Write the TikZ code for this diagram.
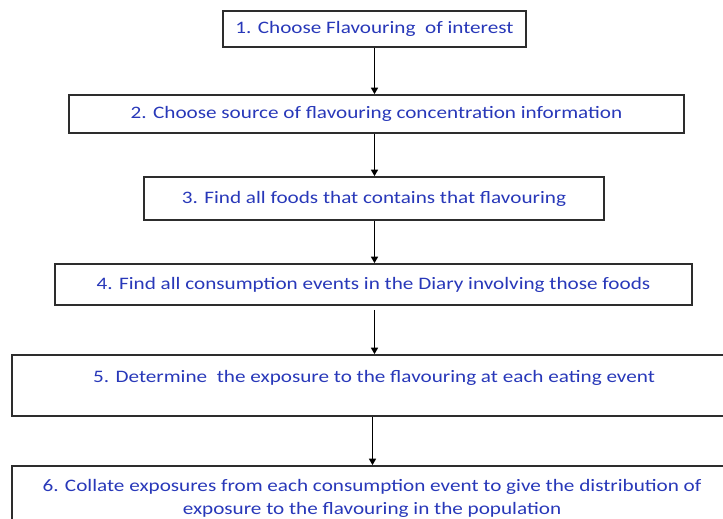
\documentclass[tikz,border=0pt]{standalone}
\usepackage{fontspec}
\setmainfont{Carlito}[FakeStretch=1.21]
\usetikzlibrary{arrows.meta}
\definecolor{stepblue}{RGB}{40,56,185}
\definecolor{frame}{RGB}{45,45,45}
\begin{document}
\begin{tikzpicture}[x=1pt,y=-1pt,
  stepbox/.style={draw=frame, line width=1.7pt, fill=white, inner sep=0pt,
    text=stepblue, font=\fontsize{17.5}{23}\selectfont, align=center},
  steptext/.style={text=stepblue, font=\fontsize{17.5}{23}\selectfont, align=center, inner sep=0pt},
  flow/.style={draw=black, line width=1.5pt, -{Triangle[length=6.5pt,width=7pt]}}]
\useasboundingbox (0,0) rectangle (723,519);
\clip (0,0) rectangle (723,519);

% Step boxes
\node[stepbox, minimum width=303pt, minimum height=36pt] (b1) at (374.5,29)
  {1. Choose Flavouring\ \ of interest};
\node[stepbox, minimum width=615pt, minimum height=38pt] (b2) at (376.5,114)
  {2. Choose source of flavouring concentration information};
\node[stepbox, minimum width=460pt, minimum height=43pt] (b3) at (374,198.5)
  {3. Find all foods that contains that\ flavouring};
\node[stepbox, minimum width=637pt, minimum height=41pt] (b4) at (373.5,284.5)
  {4. Find all consumption events\ in the Diary involving those foods};
\node[stepbox, minimum width=724pt, minimum height=61pt] (b5) at (374,385.5) {};
\node[stepbox, minimum width=724pt, minimum height=72pt] (b6) at (374,502) {};

% Texts of the two wide steps, set near the top of their boxes
\node[steptext, anchor=center] (t5) at (374,378)
  {5. Determine\ \ the exposure to the flavouring\ at each eating\ event};
\node[steptext, anchor=center] (t6) at (372,498)
  {6. Collate\ exposures from each consumption event to give\ the distribution of\\
   exposure to the flavouring in the population};

% Connectors
\draw[flow] (b1.south) -- (b1.south |- b2.north);
\draw[flow] (b1.south |- b2.south) -- (b1.south |- b3.north);
\draw[flow] (b1.south |- b3.south) -- (b1.south |- b4.north);
\draw[flow, shorten <=4pt] (b1.south |- b4.south) -- (b1.south |- b5.north);
\draw[flow] ([xshift=-2pt]b1.south |- b5.south) -- ([xshift=-2pt]b1.south |- b6.north);
\end{tikzpicture}
\end{document}
